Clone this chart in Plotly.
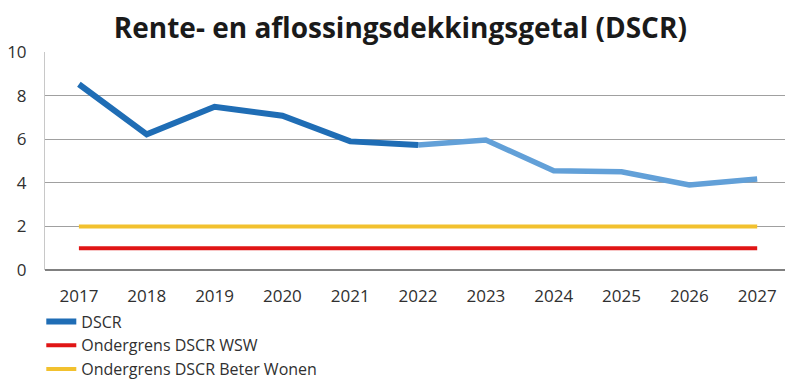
import plotly.graph_objects as go

years = ["2017", "2018", "2019", "2020", "2021", "2022", "2023", "2024", "2025", "2026", "2027"]
dscr = [8.52, 6.22, 7.49, 7.08, 5.90, 5.73, 5.96, 4.55, 4.51, 3.90, 4.17]
wsw = [1] * 11
beter_wonen = [2] * 11
split_idx = 5  # realised up to 2022, projected after

fig = go.Figure()
fig.add_trace(go.Scatter(x=years[split_idx:], y=dscr[split_idx:], mode="lines",
                         line=dict(color="#62a0d8", width=5.5), showlegend=False, hoverinfo="skip"))
fig.add_trace(go.Scatter(x=years[:split_idx + 1], y=dscr[:split_idx + 1], mode="lines",
                         line=dict(color="#1f6db5", width=6), name="DSCR"))
fig.add_trace(go.Scatter(x=years, y=wsw, mode="lines",
                         line=dict(color="#e01515", width=4), name="Ondergrens DSCR WSW"))
fig.add_trace(go.Scatter(x=years, y=beter_wonen, mode="lines",
                         line=dict(color="#f2c12e", width=4), name="Ondergrens DSCR Beter Wonen"))

fig.update_layout(
    width=785, height=383,
    margin=dict(l=45, r=0, t=52, b=113, autoexpand=False),
    paper_bgcolor="white", plot_bgcolor="white",
    font=dict(family="Open Sans", color="#404040"),
    title=dict(text="<b>Rente- en aflossingsdekkingsgetal (DSCR)</b>", x=0.51, xanchor="center",
               y=0.927, yanchor="middle", font=dict(size=28, color="#1a1a1a", family="Open Sans")),
    legend=dict(orientation="v", x=-0.005, xanchor="left", yref="container", y=0.205, yanchor="top",
                font=dict(size=16, color="#303030"), tracegroupgap=0, itemwidth=30,
                bgcolor="rgba(0,0,0,0)"),
    showlegend=True,
)
fig.update_xaxes(type="category", categoryorder="array", categoryarray=years,
                 range=[-0.5, 10.41], showgrid=False, zeroline=False,
                 showline=False, ticks="", tickfont=dict(size=17, color="#303030"),
                 ticklabelstandoff=14)
fig.update_yaxes(range=[0, 10], dtick=2, showgrid=True, gridcolor="#a0a0a0", gridwidth=1,
                 zeroline=True, zerolinecolor="#808080", zerolinewidth=1.5,
                 showline=True, linecolor="#c8c8c8", linewidth=1,
                 ticks="", tickfont=dict(size=17, color="#303030"), ticklabelstandoff=14)
fig.write_html("out.html")
